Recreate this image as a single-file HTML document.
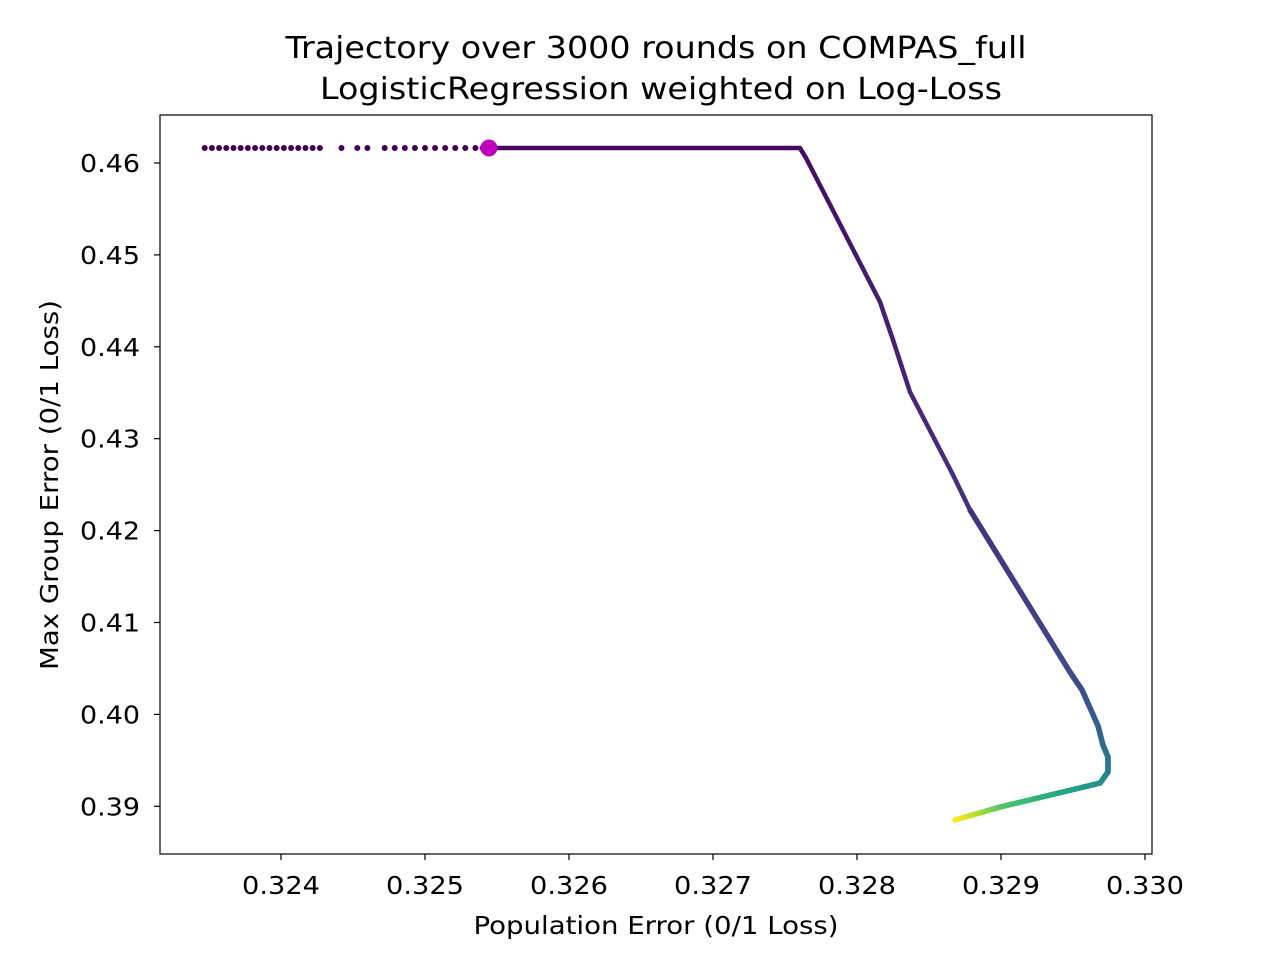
<!DOCTYPE html>
<html><head><meta charset="utf-8"><style>
body{margin:0;background:#fff}
svg{display:block;font-family:"DejaVu Sans","Liberation Sans",sans-serif}
</style></head><body>
<svg id="c" width="1280" height="960"></svg>
<script>
const xTicks=[0.324,0.325,0.326,0.327,0.328,0.329,0.330];
const xTickLabels=["0.324","0.325","0.326","0.327","0.328","0.329","0.330"];
const yTicks=[0.39,0.40,0.41,0.42,0.43,0.44,0.45,0.46];
const yTickLabels=["0.39","0.40","0.41","0.42","0.43","0.44","0.45","0.46"];
const pathX=[0.327604,0.327646,0.32816,0.32825,0.328368,0.32866,0.328785,0.329479,0.329563,0.329674,0.329708,0.329743,0.329743,0.329688,0.328993,0.328681];
const pathY=[0.46163,0.46054,0.44488,0.44074,0.43508,0.42627,0.42224,0.40461,0.40265,0.39874,0.39667,0.39537,0.39373,0.39253,0.38992,0.38851];
const pathT=[0.03,0.04,0.08,0.09,0.1,0.13,0.14,0.22,0.24,0.3,0.34,0.38,0.42,0.5,0.72,1.0];
const dotX=[0.32347,0.32352,0.32357,0.32362,0.32367,0.32372,0.32377,0.32382,0.32387,0.32392,0.32397,0.32402,0.32407,0.32412,0.32417,0.32422,0.32427,0.32442,0.32453,0.32460,0.32472,0.32479,0.32486,0.32493,0.32500,0.32507,0.32514,0.32521,0.32528,0.32535,0.32540];
const hY=0.46163;
const startX=0.325444, startY=0.46163;
const L=160,R=1152,T=115,B=854;
const sx=v=>281+(v-0.324)*144000;
const sy=v=>163-(v-0.46)*9190;
const svg=document.getElementById('c');const NS='http://www.w3.org/2000/svg';
function mk(t,a,p){const e=document.createElementNS(NS,t);for(const k in a)e.setAttribute(k,a[k]);(p||svg).appendChild(e);return e;}
const vir=[[68,1,84],[72,40,120],[62,74,137],[49,104,142],[38,130,142],[31,158,137],[53,183,121],[110,206,88],[181,222,43],[253,231,37]];
function vc(t){t=Math.max(0,Math.min(1,t))*9;const i=Math.min(8,Math.floor(t)),f=t-i;const a=vir[i],b=vir[i+1];return 'rgb('+a.map((v,k)=>Math.round(v+(b[k]-v)*f)).join(',')+')';}
const g=mk('g',{});
dotX.forEach(x=>{const c=mk('circle',{cx:sx(x),cy:sy(hY),r:3,fill:vc(0)},g);});
const hl=mk('line',{x1:sx(0.32548),y1:sy(hY),x2:sx(pathX[0]),y2:sy(hY),stroke:vc(0.02),'stroke-width':4.5,'stroke-linecap':'round'},g);

for(let i=0;i<pathX.length-1;i++){const n=12;for(let j=0;j<n;j++){const f0=j/n,f1=(j+1)/n;
const x0=pathX[i]+(pathX[i+1]-pathX[i])*f0,x1=pathX[i]+(pathX[i+1]-pathX[i])*f1;
const y0=pathY[i]+(pathY[i+1]-pathY[i])*f0,y1=pathY[i]+(pathY[i+1]-pathY[i])*f1;
const t=pathT[i]+(pathT[i+1]-pathT[i])*(f0+f1)/2;
const w=i<6?4.5:5.5;
const s=mk('line',{x1:sx(x0),y1:sy(y0),x2:sx(x1),y2:sy(y1),stroke:vc(t),'stroke-width':w,'stroke-linecap':'round'},g);
}}
const sp=mk('circle',{cx:sx(startX),cy:sy(startY),r:8.5,fill:'#c000c0'});

const fr=mk('rect',{x:L,y:T,width:R-L,height:B-T,fill:'none',stroke:'#000','stroke-width':1.2});

xTicks.forEach((v,i)=>{mk('line',{x1:sx(v),x2:sx(v),y1:B,y2:B+6,stroke:'#000','stroke-width':1.2});
const t=mk('text',{x:sx(v),y:B+40,'text-anchor':'middle','font-size':25,textLength:78,lengthAdjust:'spacingAndGlyphs'});t.textContent=xTickLabels[i];});
yTicks.forEach((v,i)=>{mk('line',{x1:L-6,x2:L,y1:sy(v),y2:sy(v),stroke:'#000','stroke-width':1.2});
const t=mk('text',{x:L-20,y:sy(v)+9,'text-anchor':'end','font-size':25,textLength:60,lengthAdjust:'spacingAndGlyphs'});t.textContent=yTickLabels[i];});
function txt(s,a,n){const t=mk('text',Object.assign({lengthAdjust:'spacingAndGlyphs'},a));t.textContent=s;}
txt('Population Error (0/1 Loss)',{x:656,y:934,'text-anchor':'middle','font-size':25,textLength:365},'x-axis-title');
txt('Max Group Error (0/1 Loss)',{x:58,y:485,'text-anchor':'middle','font-size':25,textLength:370,transform:'rotate(-90 58 485)'},'y-axis-title');
txt('Trajectory over 3000 rounds on COMPAS_full',{x:656,y:58,'text-anchor':'middle','font-size':30,textLength:741},'chart-title');
txt('LogisticRegression weighted on Log-Loss',{x:661,y:99,'text-anchor':'middle','font-size':30,textLength:682},'chart-subtitle');
</script></body></html>
